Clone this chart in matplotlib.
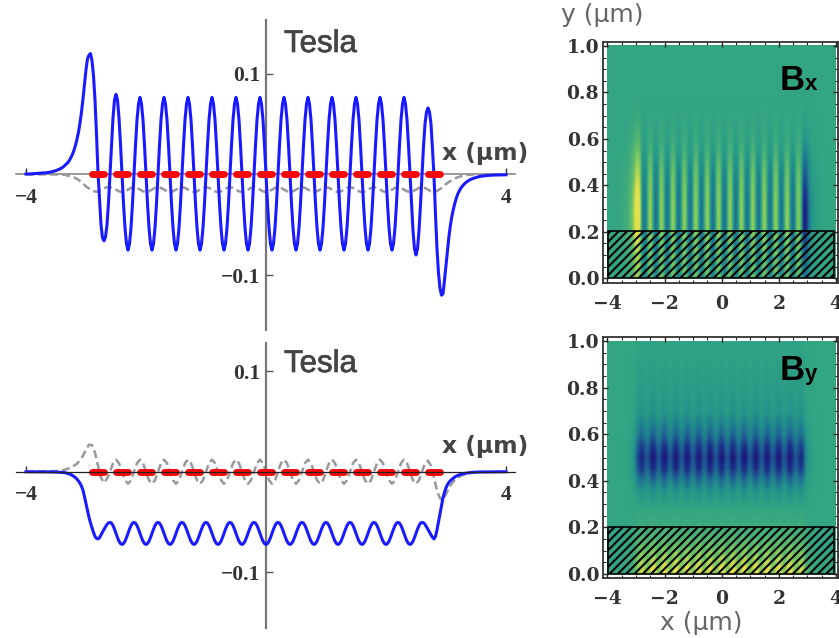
import numpy as np
import matplotlib
matplotlib.use("Agg")
import matplotlib.pyplot as plt
import matplotlib.patheffects as pe
from matplotlib.colors import LinearSegmentedColormap
from matplotlib.patches import Rectangle
from matplotlib.ticker import MultipleLocator

W, H = 839, 638
plt.rcParams['hatch.linewidth'] = 1.5

# x samples of the curves (um)
x_fine = np.arange(321) * 0.025 - 4
x_coarse = np.arange(161) * 0.05 - 4

# Top panel, blue curve (Tesla), one value every 0.025 um
bx_blue = [
 .0004,.0004,.0005,.0005,.0006,.0007,.0007,.0008,.0009,.001,.0011,.0012,.0013,.0015,.0017,.0019,
 .0022,.0025,.0029,.0033,.0038,.0044,.005,.0058,.0066,.0077,.009,.0105,.012,.014,.017,.02,
 .024,.029,.035,.042,.051,.062,.075,.09,.104,.115,.1185,.12,.113,.098,.074,.04,.002,
 -.025,-.05,-.063,-.066,-.062,-.05,-.028,0.,.03,.056,.074,.0795,.074,.056,.03,0.,
 -.029,-.053,-.069,-.0752,-.069,-.053,-.029,0.,.029,.054,.07,.0765,.07,.054,.029,0.,
 -.029,-.053,-.069,-.0752,-.069,-.053,-.029,0.,.029,.054,.07,.0765,.07,.054,.029,0.,
 -.029,-.053,-.069,-.0752,-.069,-.053,-.029,0.,.029,.054,.07,.0765,.07,.054,.029,0.,
 -.029,-.053,-.069,-.0752,-.069,-.053,-.029,0.,.029,.054,.07,.0765,.07,.054,.029,0.,
 -.029,-.053,-.069,-.0752,-.069,-.053,-.029,0.,.029,.054,.07,.0765,.07,.054,.029,0.,
 -.029,-.053,-.069,-.0752,-.069,-.053,-.029,0.,.029,.054,.07,.0765,.07,.054,.029,0.,
 -.029,-.053,-.069,-.0752,-.069,-.053,-.029,0.,.029,.054,.07,.0765,.07,.054,.029,0.,
 -.029,-.053,-.069,-.0752,-.069,-.053,-.029,0.,.029,.054,.07,.0765,.07,.054,.029,0.,
 -.029,-.053,-.069,-.0752,-.069,-.053,-.029,0.,.029,.054,.07,.0765,.07,.054,.029,0.,
 -.029,-.053,-.069,-.0752,-.069,-.053,-.029,0.,.029,.054,.07,.0765,.07,.054,.029,0.,
 -.029,-.053,-.069,-.0752,-.069,-.053,-.029,0.,.029,.054,.07,.0765,.07,.054,.029,0.,
 -.029,-.053,-.069,-.0752,-.069,-.053,-.029,0.,.029,.054,.07,.0765,.07,.054,.029,0.,
 -.03,-.056,-.074,-.08,-.074,-.056,-.03,0.,.028,.05,.062,.066,.062,.05,.025,-.002,
 -.04,-.074,-.098,-.113,-.12,-.1185,-.105,-.09,-.074,-.061,-.05,-.041,-.034,-.028,-.023,-.019,
 -.016,-.0135,-.0115,-.0098,-.0084,-.0072,-.0062,-.0053,-.0046,-.004,-.0035,-.003,-.0026,-.0022,-.0019,-.0017,
 -.0015,-.0013,-.0012,-.001,-.0009,-.0008,-.0008,-.0007,-.0006,-.0006,-.0005,-.0005,-.0005,-.0004,-.0004,-.0004,
]

# Top panel, grey dashed curve, one value every 0.05 um
bx_grey = [
 0.,0.,0.,0.,0.,0.,0.,0.,0.,0.,0.,0.,-.0001,-.0005,-.0012,-.002,-.003,-.0045,-.0065,-.009,-.012,-.014,-.016,-.017,-.0172,
 -.0155,-.0135,-.0128,-.0127,-.0134,-.0151,-.0168,-.0175,
 -.0168,-.0151,-.0134,-.0127,-.0134,-.0151,-.0168,-.0175,
 -.0168,-.0151,-.0134,-.0127,-.0134,-.0151,-.0168,-.0175,
 -.0168,-.0151,-.0134,-.0127,-.0134,-.0151,-.0168,-.0175,
 -.0168,-.0151,-.0134,-.0127,-.0134,-.0151,-.0168,-.0175,
 -.0168,-.0151,-.0134,-.0127,-.0134,-.0151,-.0168,-.0175,
 -.0168,-.0151,-.0134,-.0127,-.0134,-.0151,-.0168,-.0175,
 -.0168,-.0151,-.0134,-.0127,-.0134,-.0151,-.0168,-.0175,
 -.0168,-.0151,-.0134,-.0127,-.0134,-.0151,-.0168,-.0175,
 -.0168,-.0151,-.0134,-.0127,-.0134,-.0151,-.0168,-.0175,
 -.0168,-.0151,-.0134,-.0127,-.0134,-.0151,-.0168,-.0175,
 -.0168,-.0151,-.0134,-.0127,-.0134,-.0151,-.0168,-.0175,
 -.0168,-.0151,-.0134,-.0127,-.0134,-.0151,-.0168,-.0175,
 -.0168,-.0151,-.0134,-.0127,-.0134,-.0151,-.0168,-.0172,
 -.0165,-.0145,-.0125,-.0095,-.0075,-.0055,-.004,-.0028,-.0018,-.0012,-.0006,-.0003,-.0001,
 0.,0.,0.,0.,0.,0.,0.,0.,0.,0.,0.,
]

# Bottom panel, blue curve, one value every 0.025 um
by_blue = [
 -.0001,-.0001,-.0001,-.0001,-.0001,-.0001,-.0001,-.0001,-.0001,-.0001,-.0001,-.0001,-.0001,
 -.0002,-.0002,-.0002,-.0002,-.0003,-.0003,-.0003,-.0004,-.0004,-.0005,-.0005,
 -.0006,-.0008,-.001,-.0014,-.0018,-.0024,-.003,-.0038,-.0048,-.006,-.0075,-.0093,-.0115,-.0145,-.0185,
 -.025,-.032,-.039,-.0455,-.051,-.056,-.0605,-.0645,-.0665,-.067,
 -.0658,-.063,-.0602,-.0575,-.055,-.0525,-.051,-.0505,-.0513,-.0537,-.0573,-.0615,-.0657,-.0693,-.0717,-.0725,
 -.0717,-.0693,-.0657,-.0615,-.0573,-.0537,-.0513,-.0505,-.0513,-.0537,-.0573,-.0615,-.0657,-.0693,-.0717,-.0725,
 -.0717,-.0693,-.0657,-.0615,-.0573,-.0537,-.0513,-.0505,-.0513,-.0537,-.0573,-.0615,-.0657,-.0693,-.0717,-.0725,
 -.0717,-.0693,-.0657,-.0615,-.0573,-.0537,-.0513,-.0505,-.0513,-.0537,-.0573,-.0615,-.0657,-.0693,-.0717,-.0725,
 -.0717,-.0693,-.0657,-.0615,-.0573,-.0537,-.0513,-.0505,-.0513,-.0537,-.0573,-.0615,-.0657,-.0693,-.0717,-.0725,
 -.0717,-.0693,-.0657,-.0615,-.0573,-.0537,-.0513,-.0505,-.0513,-.0537,-.0573,-.0615,-.0657,-.0693,-.0717,-.0725,
 -.0717,-.0693,-.0657,-.0615,-.0573,-.0537,-.0513,-.0505,-.0513,-.0537,-.0573,-.0615,-.0657,-.0693,-.0717,-.0725,
 -.0717,-.0693,-.0657,-.0615,-.0573,-.0537,-.0513,-.0505,-.0513,-.0537,-.0573,-.0615,-.0657,-.0693,-.0717,-.0725,
 -.0717,-.0693,-.0657,-.0615,-.0573,-.0537,-.0513,-.0505,-.0513,-.0537,-.0573,-.0615,-.0657,-.0693,-.0717,-.0725,
 -.0717,-.0693,-.0657,-.0615,-.0573,-.0537,-.0513,-.0505,-.0513,-.0537,-.0573,-.0615,-.0657,-.0693,-.0717,-.0725,
 -.0717,-.0693,-.0657,-.0615,-.0573,-.0537,-.0513,-.0505,-.0513,-.0537,-.0573,-.0615,-.0657,-.0693,-.0717,-.0725,
 -.0717,-.0693,-.0657,-.0615,-.0573,-.0537,-.0513,-.0505,-.0513,-.0537,-.0573,-.0615,-.0657,-.0693,-.0717,-.0725,
 -.0717,-.0693,-.0657,-.0615,-.0573,-.0537,-.0513,-.0505,-.0513,-.0537,-.0573,-.0615,-.0657,-.0693,-.0717,-.0725,
 -.0717,-.0693,-.0657,-.0615,-.0573,-.0537,-.0513,-.0505,-.051,-.0525,-.055,-.0575,-.0602,-.063,-.0655,-.067,
 -.0645,-.058,-.05,-.042,-.034,-.026,-.0205,-.016,-.0128,-.0105,-.0088,-.0075,-.0063,-.0052,-.0043,-.0036,
 -.003,-.0025,-.0021,-.0018,-.0015,-.0013,-.0011,-.0009,-.0007,-.0006,-.0005,-.0004,
 -.0004,-.0003,-.0003,-.0003,-.0003,-.0003,-.0003,-.0002,-.0002,-.0002,-.0002,-.0002,-.0002,
 -.0001,-.0001,-.0001,-.0001,-.0001,-.0001,-.0001,
][:321]

# Bottom panel, grey dashed curve, one value every 0.05 um
by_grey = [
 .0001,.0001,.0001,.0001,.0001,.0002,.0002,.0003,.0003,.0004,.0005,.0008,.0013,.002,.003,.004,
 .006,.008,.0115,.016,.022,.027,.0265,.019,.006,-.006,-.011,-.007,0.,.0085,.012,.0085,0.,
 -.0085,-.012,-.0085,0.,.0085,.012,.0085,0.,
 -.0085,-.012,-.0085,0.,.0085,.012,.0085,0.,
 -.0085,-.012,-.0085,0.,.0085,.012,.0085,0.,
 -.0085,-.012,-.0085,0.,.0085,.012,.0085,0.,
 -.0085,-.012,-.0085,0.,.0085,.012,.0085,0.,
 -.0085,-.012,-.0085,0.,.0085,.012,.0085,0.,
 -.0085,-.012,-.0085,0.,.0085,.012,.0085,0.,
 -.0085,-.012,-.0085,0.,.0085,.012,.0085,0.,
 -.0085,-.012,-.0085,0.,.0085,.012,.0085,0.,
 -.0085,-.012,-.0085,0.,.0085,.012,.0085,0.,
 -.0085,-.012,-.0085,0.,.0085,.012,.0085,0.,
 -.0085,-.012,-.0085,0.,.0085,.012,.0085,0.,
 -.0085,-.012,-.0085,0.,.0085,.011,.006,-.006,
 -.019,-.0265,-.028,-.0225,-.016,-.0115,-.008,-.006,-.004,-.003,-.002,-.0013,-.0008,-.0005,
 -.0004,-.0003,-.0003,-.0002,-.0002,-.0002,-.0001,-.0001,-.0001,-.0001,
]

# Magnets drawn in red on the x axis (um)
magnet_start = [-2.95,-2.55,-2.15,-1.75,-1.35,-.95,-.55,-.15,.25,.65,1.05,1.45,1.85,2.25,2.65]
magnet_end = [-2.65,-2.25,-1.85,-1.45,-1.05,-.65,-.25,.15,.55,.95,1.35,1.75,2.15,2.55,2.95]

# Heatmap strength against height, rows at y = 0, 0.05, ... 1 um
bx_strength = [.5,.55,.6,.66,.72,.72,.7,.66,.6,.5,.35,.2,.1,.05,.02,.01,.005,.003,.002,.001,0.]
bx_edge_extra = [0.,0.,0.,.1,.25,.28,.28,.22,.12,.1,.12,.12,.09,.06,.03,.015,.005,0.,0.,0.,0.]
by_strength = [-.7,-.5,-.3,-.15,-.07,-.02,.09,.22,.49,.85,1.,.82,.53,.36,.2,.16,.13,.1,.08,.05,.03]
by_stripe_extra = [-.5,-.4,-.2,-.1,0.,0.,.05,.15,.3,.4,.35,.4,.3,.15,.05,0.,0.,0.,0.,0.,0.]

map_colors = ['#1c0d72', '#1d3f8e', '#1e6f94', '#249489', '#33a583', '#79c760', '#e4e04c']
map_stops = [0.0, 0.2, 0.35, 0.5, 0.6, 0.8, 1.0]

assert len(bx_blue) == 321, len(bx_blue)
assert len(bx_grey) == 161, len(bx_grey)
assert len(by_blue) == 321, len(by_blue)
assert len(by_grey) == 161, len(by_grey)

bx_blue_a = np.array(bx_blue)
by_blue_a = np.array(by_blue)
bx_edges = np.where(np.abs(x_fine) > 2.8, bx_blue_a, 0.0)
by_stripes = np.where(np.abs(x_fine) <= 2.8, by_blue_a + 0.0615, 0.0)
bx_map = np.outer(bx_strength, bx_blue_a) + np.outer(bx_edge_extra, bx_edges)
by_map = np.outer(by_strength, by_blue_a) + np.outer(by_stripe_extra, by_stripes)
map_cmap = LinearSegmentedColormap.from_list('field', list(zip(map_stops, map_colors)))

fig = plt.figure(figsize=(W / 100, H / 100), dpi=100, facecolor='white')


def add_ax(left, top, right, bottom):
    return fig.add_axes([left / W, 1 - bottom / H, (right - left) / W, (bottom - top) / H])


def put(px, py, s, **kw):
    return fig.text(px / W, 1 - py / H, s, **kw)


def line_panel(top, bottom, zero_y, per_unit, blue, grey, xaxis_color, xaxis_lw, xaxis_z, text_base, label_base):
    ax = add_ax(16, top, 515, bottom)
    ax.set_xlim((16 - 266) / 60, (515 - 266) / 60)
    ax.set_ylim((zero_y - bottom) / per_unit, (zero_y - top) / per_unit)
    ax.patch.set_alpha(0)
    ax.spines[['top', 'right']].set_visible(False)
    ax.spines['left'].set_position(('data', 0))
    ax.spines['bottom'].set_position(('data', 0))
    ax.spines['left'].set_color('#777777')
    ax.spines['left'].set_linewidth(1.6)
    ax.spines['bottom'].set_color(xaxis_color)
    ax.spines['bottom'].set_linewidth(xaxis_lw)
    ax.spines['bottom'].set_zorder(xaxis_z)
    ax.set_xticks([-4, 4])
    ax.set_yticks([-0.1, 0.1])
    ax.set_yticklabels(['\u22120.1', '0.1'])
    ax.set_xticklabels(['\u22124', '4'])
    ax.tick_params(axis='x', direction='in', length=4, width=1, color='#333333', pad=9.5,
                   labelsize=15.5, labelcolor='#333333')
    ax.tick_params(axis='y', direction='in', length=5, width=1, color='#555555', pad=4,
                   labelsize=15.5, labelcolor='#333333')
    for t in ax.get_xticklabels() + ax.get_yticklabels():
        t.set_fontfamily('Liberation Serif')
        t.set_fontweight('bold')
    ax.plot(x_coarse, grey, color='#999999', lw=1.8, ls=(0, (3.2, 1.6)), zorder=2)
    ax.plot(x_fine, blue, color='#1a1aff', lw=2.2, zorder=3)
    for a, b in zip(magnet_start, magnet_end):
        ax.plot([a + 0.05, b - 0.05], [0, 0], color='#f40808', lw=5.0, solid_capstyle='round', zorder=4)
    put(284, text_base, 'Tesla', fontsize=22.5, color='#444444', family='Liberation Sans',
        path_effects=[pe.withStroke(linewidth=0.5, foreground='#444444')])
    put(442, label_base, 'x (\u03bcm)', fontsize=16.8, color='#444444', family='DejaVu Sans', fontweight='bold')
    return ax


line_panel(20, 330, 174.4, 1007, bx_blue, bx_grey, '#888888', 1.2, 1.5, 52, 160)
line_panel(343, 628, 471.7, 1003, by_blue, by_grey, '#222222', 0.9, 5, 372, 453)


def map_panel(top, bottom, img_top, img_bottom, field, k, hatch_h):
    ax = add_ax(602.7, top, 838, bottom)
    ax.imshow(field, origin='lower', extent=(-4, 4, 0, 1), aspect='auto', cmap=map_cmap,
              vmin=-0.6 / k, vmax=0.4 / k, interpolation='bilinear')
    ax.set_xlim(-4 - 4.7 / 28.6, 4 + 2 / 28.6)
    per = img_bottom - img_top
    ax.set_ylim((img_bottom - bottom) / per, (img_bottom - top) / per)
    ax.set_xticks([-4, -2, 0, 2, 4])
    ax.set_yticks([0, 0.2, 0.4, 0.6, 0.8, 1.0])
    ax.xaxis.set_minor_locator(MultipleLocator(0.5))
    ax.yaxis.set_minor_locator(MultipleLocator(0.05))
    ax.tick_params(which='major', direction='in', top=True, right=True, length=3.5, width=1, color='#222222',
                   labelsize=13.5, labelcolor='#333333')
    ax.tick_params(axis='x', which='major', pad=8.5)
    ax.tick_params(axis='y', which='major', pad=2.5)
    ax.tick_params(which='minor', direction='in', top=True, right=True, length=2, width=0.8, color='#222222')
    for t in ax.get_xticklabels() + ax.get_yticklabels():
        t.set_fontfamily('DejaVu Serif')
        t.set_fontweight('bold')
    for s in ax.spines.values():
        s.set_color('#333333')
        s.set_linewidth(1.3)
    ax.add_patch(Rectangle((-3.97, 0), 7.9, hatch_h, fill=False, hatch='////', ec='black', lw=1.2))
    return ax


map_panel(41.7, 283.3, 46, 278.3, bx_map, 4.5, 0.205)
map_panel(336.7, 578.3, 341, 574, by_map, 7.3, 0.2)

put(561, 22, 'y (\u03bcm)', fontsize=18, color='#666666', family='DejaVu Sans')
put(660, 630, 'x (\u03bcm)', fontsize=18, color='#666666', family='DejaVu Sans')
put(780, 90, 'B', fontsize=25, color='black', family='Liberation Sans', fontweight='bold')
put(805, 90, 'x', fontsize=16, color='black', family='Liberation Sans', fontweight='bold')
put(780, 380, 'B', fontsize=25, color='black', family='Liberation Sans', fontweight='bold')
put(805, 380, 'y', fontsize=16, color='black', family='Liberation Sans', fontweight='bold')

fig.savefig('out.png', dpi=100)
